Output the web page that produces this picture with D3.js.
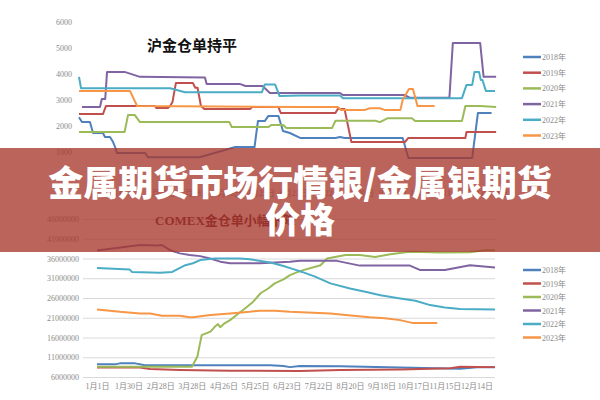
<!DOCTYPE html>
<html>
<head>
<meta charset="utf-8">
<script src="https://cdn.jsdelivr.net/npm/d3@7"></script>
<style>
  body { margin: 0; background: #fff; }
  svg { display: block; }
  .tick text { font-family: "Liberation Serif", "Noto Sans CJK SC", serif; font-size: 8px; fill: #8a8a8a; }
</style>
</head>
<body>
<svg id="chart" width="600" height="400"></svg>
<script>
// tick labels (day of year for each)
var dateLabels = ["1月1日","1月30日","2月28日","3月28日","4月26日","5月25日","6月23日",
                  "7月22日","8月20日","9月18日","10月17日","11月15日","12月14日"];
var years = ["2018年","2019年","2020年","2021年","2022年","2023年"];
var colors = ["#4F81BD","#C0504D","#9BBB59","#8064A2","#4BACC6","#F79646"];

// SHFE gold warrants, [day, value]
var shfe2018 = [[0,2340],[2.6,2150],[9.6,2150],[12.3,1730],[21,1730],[22.8,1580],[27.2,1580],[29.8,1390],[31.6,1200],[33.3,960],[58,960],[60.5,800],[106,800],[128,1080],[137,1190],[154,1190],[157,2190],[163,2190],[166,2380],[175,2380],[179,1810],[185,1730],[194,1540],[225,1540],[229,1580],[233,1540],[284,1540],[289,770],[345,770],[350,2500],[362,2500]];
var shfe2019 = [[0,2460],[21,2460],[23.7,2770],[66.7,2770],[68,2690],[78,2690],[80,2770],[82,2920],[85,3650],[100,3650],[102,3470],[104,3470],[107,2770],[110,2650],[150,2650],[152,2730],[175,2730],[177,2500],[225,2500],[227,2650],[233,2650],[239,1385],[286,1385],[289,1540],[339,1540],[340,1770],[366,1770]];
var shfe2020 = [[0,1770],[40,1770],[43,2420],[49,2420],[53.5,2150],[132,2150],[134,1960],[166,1960],[169,2040],[179,2040],[182,1920],[222,1920],[225,2200],[260,2200],[264,2150],[271,2300],[292,2300],[295,2190],[336,2190],[339,2770],[352,2770],[366,2730]];
var shfe2021 = [[2.6,2730],[18.4,2730],[20,3040],[23,3040],[24.6,4080],[40,4080],[53.5,3890],[110.5,3870],[112,3620],[141,3620],[146,3540],[161,3540],[167.5,3270],[229,3270],[231.6,3190],[286,3190],[290,3090],[325,3090],[328,5190],[352,5190],[355,3890],[366,3890]];
var shfe2022 = [[0,3890],[1.8,3450],[80,3450],[93,3300],[160.5,3300],[163,3600],[172,3600],[176,3150],[194,3170],[229,3170],[231.6,3070],[336,3070],[340,3580],[345,3580],[347,4080],[351,4080],[352.6,3770],[354,3770],[357,3350],[365,3350]];
var shfe2023 = [[0,3350],[44.7,3350],[51,2770],[194,2730],[227,2730],[230,2620],[251,2620],[255,2680],[264,2680],[268,2620],[282,2620],[284,3000],[289.5,3420],[293,3420],[295.6,3000],[297,2770],[312,2770]];

// COMEX gold warrants (million oz), [day, value]
var comex2018 = [[0,9.2],[16.5,9.2],[21,9.45],[35,9.45],[44,9.0],[159,9.0],[171,8.8],[177,8.5],[186,8.8],[223,8.7],[278,8.4],[333,8.1],[351,8.5],[365,8.5]];
var comex2019 = [[0,8.4],[39.4,8.4],[48.6,8.0],[76,7.8],[122,7.6],[186,7.5],[223,7.8],[278,7.9],[324,8.2],[333,8.6],[365,8.5]];
var comex2020 = [[0,8.6],[87,8.6],[92,11.1],[96,16.6],[104,17.5],[108,18.7],[111,19.4],[113,18.6],[117,19.6],[122,20.4],[128,21.7],[136,23.4],[143,25.0],[150,27.2],[157,28.4],[163,29.7],[171,30.7],[177,31.8],[186,32.8],[205,34.3],[211,36.0],[228,36.9],[241,36.9],[255,36.4],[269,37.1],[287,37.7],[315,37.5],[342,37.6],[356,38.1],[365,38.1]];
var comex2021 = [[0,38.0],[39.4,39.4],[55,39.3],[59.6,39.4],[67,38.1],[76,37.3],[85,36.9],[94.5,36.6],[103.7,36.0],[113,35.2],[122,34.8],[149.5,34.8],[177,35.2],[186,35.4],[220,35.4],[241,34.2],[287,34.2],[296,33.1],[319,33.1],[342,34.3],[365,33.7]];
var comex2022 = [[0,33.6],[30,33.2],[32,32.6],[58,32.4],[69,32.6],[81,34.3],[88,34.8],[94.5,35.6],[108,36.0],[131,36.0],[140,35.8],[159,35.0],[171,34.1],[180,33.3],[188,32.6],[200,31.4],[214,29.7],[232,28.4],[246,27.6],[260,26.7],[278,25.9],[292,25.3],[305.5,24.2],[319,23.6],[333,23.2],[365,23.1]];
var comex2023 = [[0,23.1],[21,22.5],[39.4,22.1],[48.6,22.1],[59.6,21.5],[76,21.5],[85,21.1],[88,21.1],[104,21.7],[122,22.1],[140,22.5],[149.5,22.8],[163,22.8],[177,22.5],[214,22.1],[228,21.7],[250,21.1],[264,20.9],[278,20.4],[289,19.7],[312,19.7]];

var svg = d3.select("#chart");
var labelFont = '"Liberation Serif", "Noto Sans CJK SC", serif';

function drawPanel(opt) {
  var g = svg.append("g");
  var x = d3.scaleLinear().domain([0, 365]).range(opt.xRange);
  var y = d3.scaleLinear().domain(opt.yDomain).range(opt.yRange);

  var yAxis = d3.axisLeft(y).tickValues(opt.yTicks).tickPadding(4)
    .tickSize(opt.grid ? -(opt.xRange[1] - opt.axisX) : 0)
    .tickFormat(d3.format("d"));
  var ya = g.append("g").attr("transform", `translate(${opt.axisX},0)`).call(yAxis);
  ya.select(".domain").remove();
  ya.selectAll(".tick line").attr("stroke", "#d9d9d9").attr("stroke-width", 1);

  var xAxis = d3.axisBottom(x).tickValues(dateLabels.map((d, i) => i * 29))
    .tickSize(0).tickPadding(opt.xPad).tickFormat((d, i) => dateLabels[i]);
  var xa = g.append("g").attr("transform", `translate(${opt.xShift},${opt.yRange[0]})`).call(xAxis);
  xa.select(".domain").remove();

  var line = d3.line().x(d => x(d[0])).y(d => y(d[1]));
  opt.series.forEach((s, i) => {
    g.append("path").datum(s)
      .attr("fill", "none").attr("stroke", colors[i])
      .attr("stroke-width", 2).attr("stroke-linejoin", "round")
      .attr("d", line);
  });

  // legend
  var lg = g.append("g").attr("transform", `translate(523,${opt.legendY})`);
  years.forEach((yr, i) => {
    var row = lg.append("g").attr("transform", `translate(0,${i * opt.legendStep})`);
    row.append("line").attr("x1", 0).attr("x2", 18).attr("y1", 0).attr("y2", 0)
      .attr("stroke", colors[i]).attr("stroke-width", 2.5);
    row.append("text").attr("x", 19).attr("y", 3)
      .style("font-family", labelFont).style("font-size", "8px").style("fill", "#8a8a8a")
      .text(yr);
  });

  g.append("text").attr("x", opt.titleX).attr("y", opt.titleY)
    .style("font-family", opt.titleFont).style("font-size", opt.titleSize)
    .style("font-weight", opt.titleWeight).style("fill", opt.titleColor)
    .text(opt.title);
}

drawPanel({
  xRange: [79, 495], yDomain: [0, 6000], yRange: [178, 22], axisX: 76,
  yTicks: [0, 1000, 2000, 3000, 4000, 5000, 6000], grid: false, xPad: 12, xShift: 16,
  series: [shfe2018, shfe2019, shfe2020, shfe2021, shfe2022, shfe2023],
  legendY: 57, legendStep: 15.7,
  title: "沪金仓单持平", titleX: 147, titleY: 51, titleSize: "15px",
  titleFont: '"Noto Sans CJK SC", sans-serif', titleWeight: 700, titleColor: "#111"
});

drawPanel({
  xRange: [97, 495], yDomain: [6e6, 46e6], yRange: [377, 219], axisX: 83,
  yTicks: d3.range(6e6, 46e6 + 1, 5e6), grid: true, xPad: 6, xShift: 0,
  series: [comex2018, comex2019, comex2020, comex2021, comex2022, comex2023].map(s => s.map(d => [d[0], d[1] * 1e6])),
  legendY: 270, legendStep: 13.5,
  title: "COMEX金仓单小幅下降", titleX: 155, titleY: 225, titleSize: "13px",
  titleFont: '"Liberation Serif", "Noto Sans CJK SC", serif', titleWeight: 700, titleColor: "#5a1414"
});

// overlay banner with headline
svg.append("rect").attr("x", 0).attr("y", 148).attr("width", 600).attr("height", 104)
  .attr("fill", "rgba(168,56,46,0.78)");
var head = svg.append("text").attr("text-anchor", "middle")
  .style("font-family", '"Noto Sans CJK SC", sans-serif')
  .style("font-size", "35px").style("font-weight", 900).style("fill", "#fff");
head.append("tspan").attr("x", 300).attr("y", 196).text("金属期货市场行情银/金属银期货");
head.append("tspan").attr("x", 300).attr("y", 233).text("价格");
</script>
</body>
</html>
